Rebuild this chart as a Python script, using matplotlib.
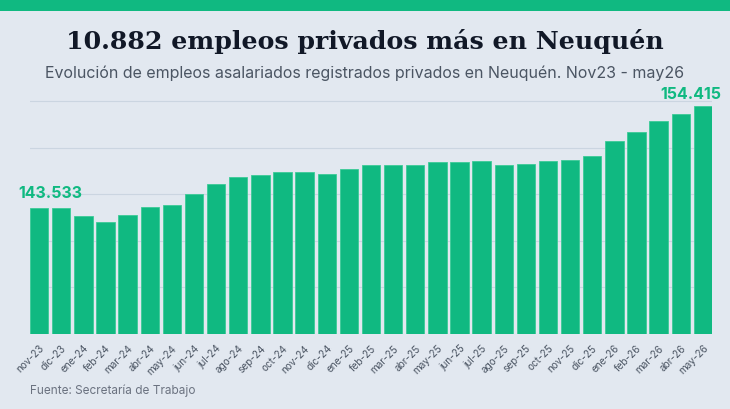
import matplotlib
matplotlib.use("Agg")
import matplotlib.pyplot as plt
from matplotlib.patches import Rectangle

months = ["nov-23", "dic-23", "ene-24", "feb-24", "mar-24", "abr-24", "may-24", "jun-24",
          "jul-24", "ago-24", "sep-24", "oct-24", "nov-24", "dic-24", "ene-25", "feb-25",
          "mar-25", "abr-25", "may-25", "jun-25", "jul-25", "ago-25", "sep-25", "oct-25",
          "nov-25", "dic-25", "ene-26", "feb-26", "mar-26", "abr-26", "may-26"]
empleos = [143533, 143550, 142630, 142000, 142800, 143600, 143840, 144990,
           146100, 146800, 147100, 147350, 147400, 147170, 147670, 148150,
           148100, 148130, 148490, 148460, 148530, 148100, 148240, 148530,
           148670, 149130, 150710, 151710, 152820, 153640, 154415]
y_ticks = [130000, 135000, 140000, 145000, 150000, 155000]

BG = "#e2e8f0"
GREEN = "#10b981"
W, H = 730, 410

fig = plt.figure(figsize=(W / 100, H / 100), dpi=100, facecolor=BG)
fig.patches.append(Rectangle((0, 1 - 12 / H), 1, 12 / H, transform=fig.transFigure,
                             facecolor=GREEN, edgecolor="none"))

left, right = 30 / W, 712 / W
bottom, top = 1 - 335 / H, 1 - 92.7 / H
ax = fig.add_axes([left, bottom, right - left, top - bottom])
ax.set_facecolor(BG)

bw = 0.827
x = list(range(len(months)))
ax.bar(x, empleos, width=bw, color=GREEN, edgecolor="#3ccb97", linewidth=0.6, zorder=3)
ax.set_xlim(-bw / 2, len(months) - 1 + bw / 2)
ax.set_ylim(130000, 156000)
ax.set_yticks(y_ticks)
ax.tick_params(axis="y", length=0, labelleft=False)
ax.grid(axis="y", color="#cbd5e1", linewidth=0.8, zorder=0)
for s in ax.spines.values():
    s.set_visible(False)
ax.set_xticks(x)
ax.set_xticklabels(months, rotation=45, ha="right", rotation_mode="anchor",
                   fontsize=7.2, color="#4b5563", family="Inter")
ax.tick_params(axis="x", length=0, pad=6)

ax.annotate(f"{empleos[0]:,}".replace(",", "."), xy=(0, empleos[0]), xytext=(8, 11),
            textcoords="offset points", ha="center", va="center",
            fontsize=11.5, fontweight="bold", color=GREEN, family="Inter", zorder=5)
ax.annotate(f"{empleos[-1]:,}".replace(",", "."), xy=(len(months) - 1, empleos[-1]),
            xytext=(-9, 9), textcoords="offset points", ha="center", va="center",
            fontsize=11.5, fontweight="bold", color=GREEN, family="Inter", zorder=5,
            annotation_clip=False)

fig.text(0.5, 1 - 42 / H, "10.882 empleos privados más en Neuquén", ha="center", va="center",
         fontsize=18.2, fontweight="bold", color="#111827", family="DejaVu Serif")
fig.text(0.5, 1 - 73 / H,
         "Evolución de empleos asalariados registrados privados en Neuquén. Nov23 - may26",
         ha="center", va="center", fontsize=11.5, color="#4b5563", family="Inter")
fig.text(30 / W, 1 - 391 / H, "Fuente: Secretaría de Trabajo", ha="left", va="center",
         fontsize=8.5, color="#6b7280", family="Inter")

fig.savefig("out.png", dpi=100, facecolor=BG)
